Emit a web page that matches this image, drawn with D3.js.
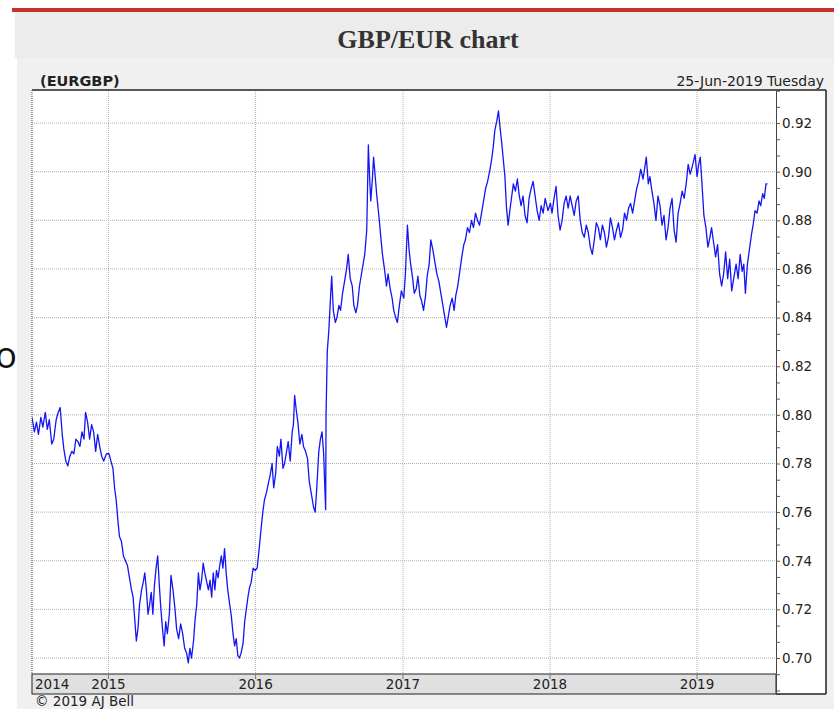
<!DOCTYPE html>
<html lang="en">
<head>
<meta charset="utf-8">
<title>GBP/EUR chart</title>
<script src="https://d3js.org/d3.v7.min.js"></script>
<style>
  body { margin: 0; background: #fff; }
  svg { display: block; }
  .lbl { font-family: "DejaVu Sans", Verdana, sans-serif; fill: #222; }
</style>
</head>
<body>
<script>
// EURGBP closes
var dates = [
  "2014-06-25","2014-07-01","2014-07-06","2014-07-11","2014-07-17","2014-07-22","2014-07-28","2014-08-02","2014-08-07","2014-08-13",
  "2014-08-18","2014-08-24","2014-08-29","2014-09-03","2014-09-08","2014-09-12","2014-09-17","2014-09-22","2014-09-27","2014-10-02",
  "2014-10-07","2014-10-12","2014-10-17","2014-10-22","2014-10-27","2014-11-01","2014-11-05","2014-11-10","2014-11-15","2014-11-20",
  "2014-11-25","2014-11-30","2014-12-05","2014-12-10","2014-12-15","2014-12-20","2014-12-27",
  "2015-01-02","2015-01-07","2015-01-12","2015-01-16","2015-01-20","2015-01-24","2015-01-28","2015-02-02","2015-02-07","2015-02-12",
  "2015-02-17","2015-02-22","2015-02-27","2015-03-03","2015-03-07","2015-03-11","2015-03-15","2015-03-19","2015-03-24","2015-03-28",
  "2015-04-01","2015-04-05","2015-04-09","2015-04-13","2015-04-17","2015-04-21","2015-04-25","2015-04-29","2015-05-03","2015-05-07",
  "2015-05-11","2015-05-15","2015-05-19","2015-05-23","2015-05-27","2015-06-01","2015-06-05","2015-06-10","2015-06-15","2015-06-19",
  "2015-06-24","2015-06-29","2015-07-04","2015-07-09","2015-07-14","2015-07-18","2015-07-22","2015-07-26","2015-07-31","2015-08-04",
  "2015-08-08","2015-08-12","2015-08-16","2015-08-20","2015-08-24","2015-08-28","2015-09-02","2015-09-06","2015-09-10","2015-09-14",
  "2015-09-18","2015-09-22","2015-09-26","2015-09-30","2015-10-04","2015-10-08","2015-10-12","2015-10-16","2015-10-20","2015-10-24",
  "2015-10-28","2015-11-02","2015-11-06","2015-11-10","2015-11-14","2015-11-18","2015-11-22","2015-11-26","2015-12-01","2015-12-05",
  "2015-12-09","2015-12-13","2015-12-17","2015-12-21","2015-12-26","2015-12-31",
  "2016-01-05","2016-01-10","2016-01-14","2016-01-19","2016-01-23","2016-01-28","2016-02-02","2016-02-06","2016-02-11","2016-02-15",
  "2016-02-20","2016-02-24","2016-02-29","2016-03-04","2016-03-09","2016-03-13","2016-03-18","2016-03-22","2016-03-27","2016-04-01",
  "2016-04-04","2016-04-07","2016-04-11","2016-04-15","2016-04-20","2016-04-25","2016-04-29","2016-05-04","2016-05-09","2016-05-13",
  "2016-05-18","2016-05-24","2016-05-28","2016-06-01","2016-06-06","2016-06-10","2016-06-14","2016-06-18","2016-06-23","2016-06-24",
  "2016-06-27","2016-07-01","2016-07-05","2016-07-08","2016-07-12","2016-07-17","2016-07-21","2016-07-26","2016-07-30","2016-08-04",
  "2016-08-09","2016-08-14","2016-08-18","2016-08-23","2016-08-28","2016-09-01","2016-09-06","2016-09-10","2016-09-15","2016-09-19",
  "2016-09-24","2016-09-28","2016-10-03","2016-10-07","2016-10-10","2016-10-13","2016-10-17","2016-10-20","2016-10-24","2016-10-28",
  "2016-11-02","2016-11-07","2016-11-11","2016-11-16","2016-11-21","2016-11-25","2016-11-30","2016-12-05","2016-12-09","2016-12-14",
  "2016-12-18","2016-12-23","2016-12-28",
  "2017-01-03","2017-01-07","2017-01-12","2017-01-16","2017-01-20","2017-01-25","2017-01-29","2017-02-03","2017-02-07","2017-02-12",
  "2017-02-16","2017-02-21","2017-02-26","2017-03-02","2017-03-07","2017-03-11","2017-03-16","2017-03-21","2017-03-26","2017-03-31",
  "2017-04-05","2017-04-10","2017-04-15","2017-04-19","2017-04-24","2017-04-28","2017-05-03","2017-05-08","2017-05-12","2017-05-17",
  "2017-05-22","2017-05-27","2017-06-01","2017-06-05","2017-06-10","2017-06-15","2017-06-20","2017-06-25","2017-06-30","2017-07-05",
  "2017-07-10","2017-07-15","2017-07-20","2017-07-25","2017-07-30","2017-08-04","2017-08-09","2017-08-13","2017-08-17","2017-08-22",
  "2017-08-26","2017-08-30","2017-09-03","2017-09-07","2017-09-11","2017-09-15","2017-09-19","2017-09-24","2017-09-28","2017-10-02",
  "2017-10-07","2017-10-12","2017-10-16","2017-10-21","2017-10-26","2017-10-31","2017-11-05","2017-11-10","2017-11-15","2017-11-20",
  "2017-11-25","2017-11-30","2017-12-05","2017-12-10","2017-12-15","2017-12-20","2017-12-27",
  "2018-01-02","2018-01-06","2018-01-11","2018-01-16","2018-01-21","2018-01-26","2018-01-31","2018-02-05","2018-02-10","2018-02-15",
  "2018-02-20","2018-02-25","2018-03-02","2018-03-07","2018-03-12","2018-03-17","2018-03-22","2018-03-27","2018-04-01","2018-04-06",
  "2018-04-11","2018-04-16","2018-04-21","2018-04-26","2018-05-01","2018-05-06","2018-05-11","2018-05-16","2018-05-21","2018-05-26",
  "2018-05-31","2018-06-05","2018-06-10","2018-06-15","2018-06-20","2018-06-25","2018-06-30","2018-07-05","2018-07-10","2018-07-15",
  "2018-07-20","2018-07-25","2018-07-30","2018-08-04","2018-08-09","2018-08-14","2018-08-20","2018-08-28","2018-09-02","2018-09-06",
  "2018-09-11","2018-09-16","2018-09-21","2018-09-26","2018-10-01","2018-10-06","2018-10-11","2018-10-16","2018-10-21","2018-10-26",
  "2018-10-31","2018-11-05","2018-11-10","2018-11-15","2018-11-20","2018-11-25","2018-11-30","2018-12-05","2018-12-10","2018-12-15",
  "2018-12-20","2018-12-27",
  "2019-01-01","2019-01-05","2019-01-09","2019-01-14","2019-01-18","2019-01-23","2019-01-28","2019-02-02","2019-02-06","2019-02-11",
  "2019-02-16","2019-02-21","2019-02-26","2019-03-03","2019-03-08","2019-03-13","2019-03-18","2019-03-23","2019-03-28","2019-04-02",
  "2019-04-08","2019-04-13","2019-04-18","2019-04-23","2019-04-27","2019-05-01","2019-05-06","2019-05-11","2019-05-16","2019-05-21",
  "2019-05-25","2019-05-30","2019-06-04","2019-06-08","2019-06-13","2019-06-17","2019-06-21","2019-06-25"
];
var closes = [
  0.799,0.793,0.797,0.792,0.799,0.795,0.801,0.794,0.798,0.788,
  0.790,0.798,0.801,0.803,0.792,0.786,0.781,0.779,0.783,0.785,
  0.784,0.790,0.789,0.787,0.793,0.790,0.801,0.797,0.790,0.796,
  0.793,0.785,0.792,0.787,0.783,0.781,0.784,
  0.784,0.781,0.778,0.770,0.765,0.757,0.750,0.748,0.742,0.740,
  0.738,0.733,0.728,0.725,0.716,0.707,0.712,0.722,0.728,0.731,
  0.735,0.728,0.718,0.722,0.727,0.718,0.730,0.737,0.742,0.730,
  0.720,0.712,0.705,0.715,0.710,0.718,0.734,0.728,0.720,0.712,
  0.708,0.714,0.710,0.704,0.702,0.698,0.704,0.700,0.707,0.716,
  0.722,0.735,0.728,0.732,0.739,0.735,0.731,0.728,0.732,0.725,
  0.735,0.728,0.736,0.733,0.738,0.742,0.737,0.745,0.735,0.728,
  0.723,0.717,0.710,0.705,0.708,0.701,0.700,0.702,0.706,0.715,
  0.720,0.725,0.729,0.731,0.737,0.736,
  0.737,0.745,0.752,0.760,0.765,0.768,0.772,0.775,0.780,0.770,
  0.776,0.787,0.783,0.790,0.778,0.780,0.785,0.789,0.781,0.793,
  0.796,0.808,0.802,0.797,0.788,0.792,0.787,0.785,0.782,0.773,
  0.768,0.762,0.760,0.770,0.785,0.790,0.793,0.784,0.761,0.800,
  0.826,0.835,0.848,0.857,0.843,0.838,0.840,0.845,0.843,0.850,
  0.855,0.860,0.866,0.856,0.853,0.845,0.842,0.845,0.853,0.857,
  0.862,0.866,0.876,0.911,0.898,0.888,0.897,0.906,0.898,0.890,
  0.882,0.873,0.866,0.860,0.853,0.858,0.852,0.848,0.843,0.840,
  0.838,0.845,0.851,
  0.848,0.858,0.878,0.868,0.862,0.856,0.850,0.852,0.857,0.849,
  0.847,0.843,0.849,0.857,0.862,0.872,0.868,0.863,0.858,0.855,
  0.850,0.845,0.840,0.836,0.841,0.845,0.848,0.843,0.849,0.853,
  0.859,0.865,0.870,0.872,0.877,0.875,0.880,0.877,0.883,0.880,
  0.878,0.883,0.888,0.893,0.896,0.900,0.905,0.910,0.917,0.921,
  0.925,0.918,0.912,0.905,0.898,0.885,0.878,0.885,0.890,0.895,
  0.892,0.897,0.891,0.886,0.890,0.882,0.879,0.889,0.893,0.896,
  0.890,0.884,0.880,0.886,0.883,0.889,0.884,
  0.887,0.883,0.889,0.894,0.882,0.876,0.880,0.887,0.890,0.885,
  0.890,0.886,0.882,0.888,0.890,0.880,0.875,0.873,0.878,0.875,
  0.869,0.866,0.872,0.879,0.877,0.872,0.878,0.875,0.869,0.873,
  0.881,0.877,0.872,0.876,0.879,0.873,0.876,0.883,0.880,0.885,
  0.887,0.883,0.888,0.893,0.896,0.901,0.897,0.906,0.895,0.898,
  0.892,0.887,0.880,0.890,0.886,0.878,0.882,0.872,0.877,0.885,
  0.889,0.876,0.871,0.883,0.887,0.892,0.889,0.895,0.903,0.899,
  0.902,0.907,
  0.898,0.903,0.906,0.893,0.882,0.877,0.869,0.873,0.877,0.871,
  0.865,0.870,0.858,0.853,0.858,0.867,0.856,0.864,0.851,0.856,
  0.862,0.856,0.866,0.859,0.862,0.850,0.862,0.868,0.874,0.879,
  0.884,0.883,0.888,0.886,0.891,0.889,0.895,0.895
];
var yearTicks = ["2015","2016","2017","2018","2019"];
var priceTicks = [0.70, 0.72, 0.74, 0.76, 0.78, 0.80, 0.82, 0.84, 0.86, 0.88, 0.90, 0.92];

var W = 834, H = 709;
var plotL = 32, plotR = 776, plotT = 90, plotB = 674, bandB = 694, boxR = 826;

var parse = d3.timeParse("%Y-%m-%d");
var data = dates.map(function(d, i) { return { date: parse(d), value: closes[i] }; });

var x = d3.scaleTime()
  .domain([parse("2014-06-25"), parse("2019-07-16")])
  .range([plotL, plotR]);
var y = d3.scaleLinear()
  .domain([0.6852, 0.9336])
  .range([bandB, plotT]);

var svg = d3.select("body").append("svg")
  .attr("width", W)
  .attr("height", H);

// page chrome
svg.append("rect").attr("x", 12).attr("y", 8).attr("width", W - 12).attr("height", 4).attr("fill", "#c9302c");
svg.append("rect").attr("x", 15).attr("y", 12).attr("width", W - 15).attr("height", 46).attr("fill", "#ececec");
svg.append("rect").attr("x", 17).attr("y", 58).attr("width", W - 17).attr("height", H - 58).attr("fill", "#f0f0f0");

svg.append("text")
  .attr("x", 428).attr("y", 48)
  .attr("text-anchor", "middle")
  .style("font-family", "'Liberation Serif', 'DejaVu Serif', serif")
  .style("font-weight", "bold")
  .style("font-size", "26px")
  .style("fill", "#333")
  .text("GBP/EUR chart");

// stray letter at the left edge
svg.append("text")
  .attr("x", 17).attr("y", 368)
  .attr("text-anchor", "end")
  .style("font-family", "'Open Sans', sans-serif")
  .style("font-size", "36px")
  .style("fill", "#111")
  .text("o");

// chart box
svg.append("rect")
  .attr("x", plotL).attr("y", plotT)
  .attr("width", boxR - plotL).attr("height", bandB - plotT)
  .attr("fill", "#fff");

svg.append("text").attr("class", "lbl")
  .attr("x", 40).attr("y", 86)
  .style("font-size", "14.5px").style("font-weight", "bold")
  .text("(EURGBP)");
svg.append("text").attr("class", "lbl")
  .attr("x", 824).attr("y", 86)
  .attr("text-anchor", "end")
  .style("font-size", "14px")
  .text("25-Jun-2019 Tuesday");

// gridlines
svg.append("g").selectAll("line")
  .data(priceTicks)
  .join("line")
  .attr("x1", plotL).attr("x2", plotR)
  .attr("y1", function(d) { return y(d); })
  .attr("y2", function(d) { return y(d); })
  .attr("stroke", "#b0b0b0")
  .attr("stroke-dasharray", "1,1");

var yearDates = yearTicks.map(function(s) { return parse(s + "-01-01"); });
svg.append("g").selectAll("line")
  .data(yearDates)
  .join("line")
  .attr("x1", function(d) { return x(d); })
  .attr("x2", function(d) { return x(d); })
  .attr("y1", plotT).attr("y2", plotB)
  .attr("stroke", "#b0b0b0")
  .attr("stroke-dasharray", "1,1");

// price line
svg.append("clipPath").attr("id", "clip")
  .append("rect").attr("x", plotL).attr("y", plotT)
  .attr("width", plotR - plotL).attr("height", plotB - plotT);

var line = d3.line()
  .x(function(d) { return x(d.date); })
  .y(function(d) { return y(d.value); });

svg.append("path")
  .datum(data)
  .attr("clip-path", "url(#clip)")
  .attr("d", line)
  .attr("fill", "none")
  .attr("stroke", "#1414f5")
  .attr("stroke-width", 1.3)
  .attr("stroke-linejoin", "round");

// x band
svg.append("rect")
  .attr("x", plotL).attr("y", plotB)
  .attr("width", plotR - plotL).attr("height", bandB - plotB)
  .attr("fill", "#e0e0e0")
  .attr("stroke", "#222");

svg.append("g").selectAll("line")
  .data(yearDates)
  .join("line")
  .attr("x1", function(d) { return x(d); })
  .attr("x2", function(d) { return x(d); })
  .attr("y1", plotB).attr("y2", plotB + 5)
  .attr("stroke", "#777");

svg.append("g").selectAll("text")
  .data(yearDates)
  .join("text")
  .attr("class", "lbl")
  .attr("x", function(d) { return x(d); })
  .attr("y", plotB + 15)
  .attr("text-anchor", "middle")
  .style("font-size", "13.5px")
  .text(function(d) { return d3.timeFormat("%Y")(d); });

svg.append("text").attr("class", "lbl")
  .attr("x", plotL + 3).attr("y", plotB + 15)
  .style("font-size", "13.5px")
  .text("2014");

// frame lines
svg.append("line").attr("x1", plotL).attr("x2", boxR).attr("y1", plotT).attr("y2", plotT).attr("stroke", "#222").attr("stroke-width", 1.5);
svg.append("line").attr("x1", plotL).attr("x2", plotL).attr("y1", plotT).attr("y2", plotB).attr("stroke", "#555").attr("stroke-dasharray", "1,1");
svg.append("line").attr("x1", boxR).attr("x2", boxR).attr("y1", plotT).attr("y2", bandB).attr("stroke", "#222").attr("stroke-width", 1.5);
svg.append("line").attr("x1", plotR).attr("x2", boxR).attr("y1", bandB).attr("y2", bandB).attr("stroke", "#222").attr("stroke-width", 1.5);

// right axis
var minor = d3.range(-2, 37).map(function(k) { return 0.70 + k * 0.02 / 3; })
  .filter(function(v) { return y(v) >= plotT && y(v) <= bandB; });

var yAxis = d3.axisRight(y)
  .tickValues(minor)
  .tickSize(4)
  .tickFormat(function(d, i) {
    var k = Math.round((d - 0.70) / (0.02 / 3));
    return k % 3 === 0 ? d3.format(".2f")(d) : "";
  });

var ax = svg.append("g")
  .attr("transform", "translate(" + plotR + ",0)")
  .call(yAxis);
ax.select(".domain").attr("stroke", "#444");
ax.selectAll(".tick line").attr("stroke", "#555");
ax.selectAll(".tick text")
  .attr("x", 6)
  .style("font-family", "'DejaVu Sans', Verdana, sans-serif")
  .style("font-size", "13.5px")
  .style("fill", "#222");

svg.append("text").attr("class", "lbl")
  .attr("x", 35).attr("y", 706)
  .style("font-size", "13.5px")
  .text("\u00a9 2019 AJ Bell");
</script>
</body>
</html>
